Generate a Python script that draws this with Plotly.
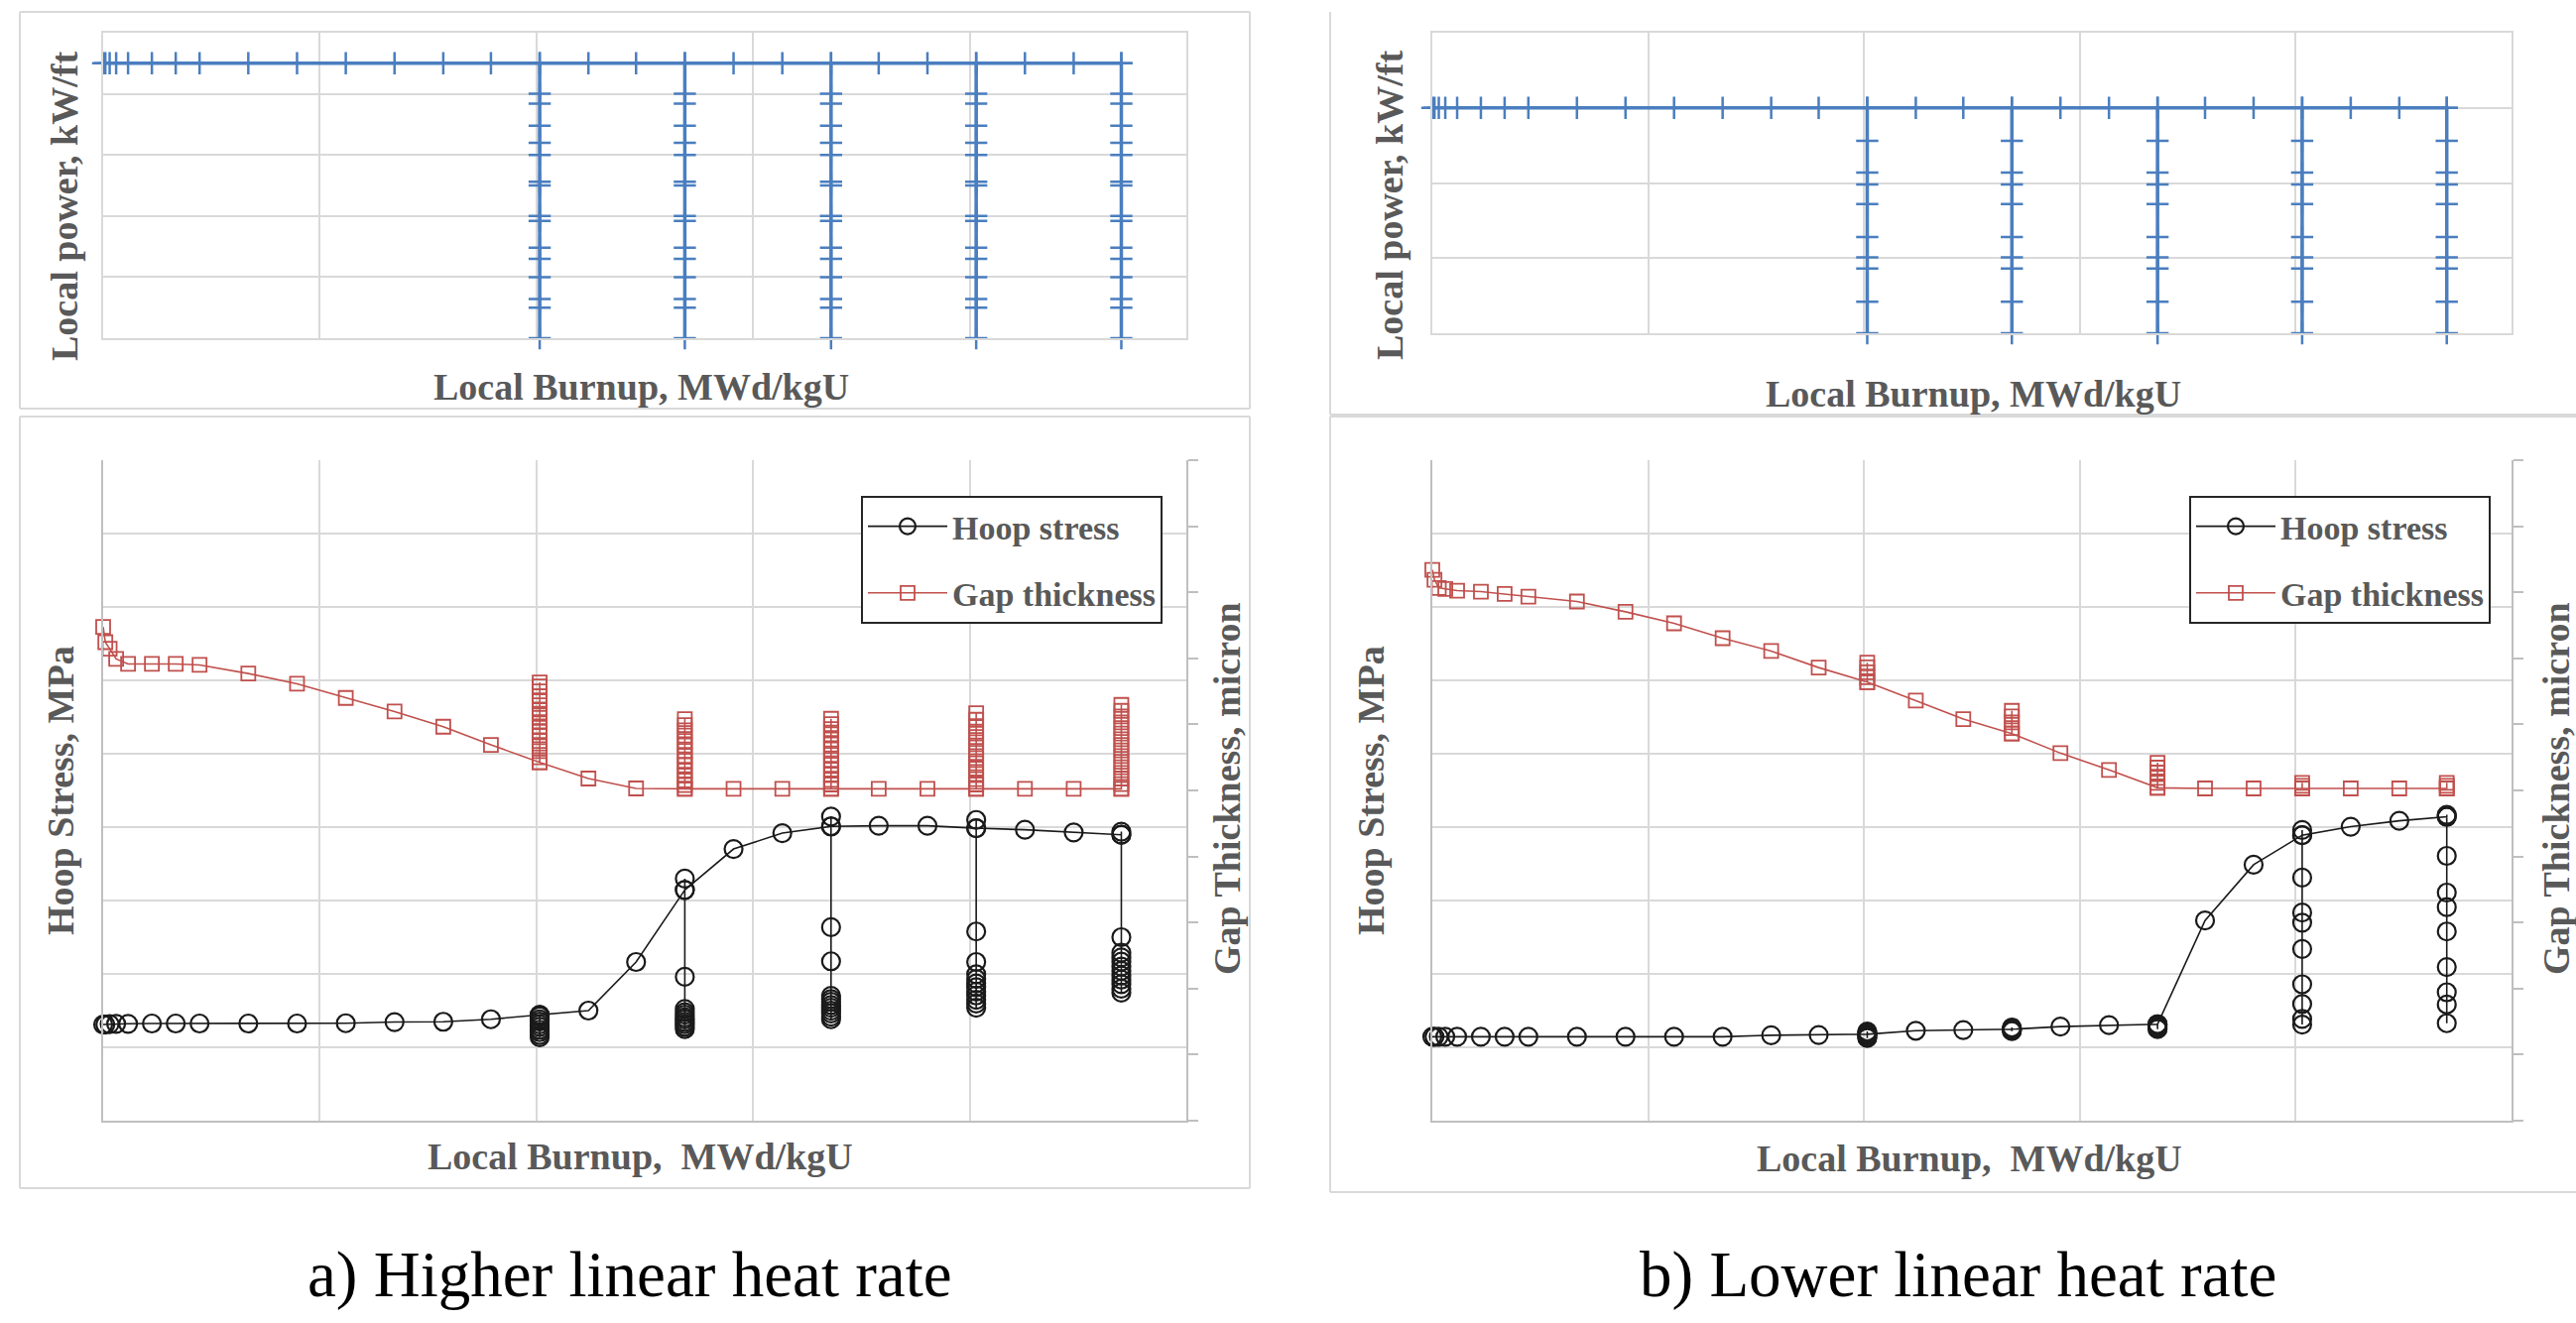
import plotly.graph_objects as go

W, H = 2597, 1334

# ---------------- data (arbitrary but consistent units) ----------------
burnup = [0.0, 0.1, 0.3, 0.6, 1.15, 2.25, 3.35, 4.45, 6.7, 8.95, 11.2, 13.45, 15.7, 17.9,
          20.15, 22.4, 24.6, 26.85, 29.1, 31.35, 33.6, 35.8, 38.05, 40.3, 42.55, 44.8, 47.0]
drop_burnups = [20.15, 26.85, 33.6, 40.3, 47.0]

# local power, kW/ft
power_a = [22.5, 22.5, 22.5, 22.5, 22.5, 22.5, 22.5, 22.5, 22.5, 22.5, 22.5, 22.5, 22.5, 22.5,
           22.5, 22.5, 22.5, 22.5, 22.5, 22.5, 22.5, 22.5, 22.5, 22.5, 22.5, 22.5, 22.5]
power_a_steps = [20.0, 19.2, 17.4, 16.0, 15.0, 12.8, 12.5, 10.0, 9.6, 7.4, 6.5, 5.0, 3.2, 2.5, 0.0]
power_b = [15.0, 15.0, 15.0, 15.0, 15.0, 15.0, 15.0, 15.0, 15.0, 15.0, 15.0, 15.0, 15.0, 15.0,
           15.0, 15.0, 15.0, 15.0, 15.0, 15.0, 15.0, 15.0, 15.0, 15.0, 15.0, 15.0, 15.0]
power_b_steps = [12.8, 10.7, 9.9, 8.6, 6.4, 5.05, 4.3, 2.1, 0.0]

# hoop stress, MPa
hoop_a = [-84.5, -84.5, -84.2, -84.0, -84.0, -83.8, -83.8, -83.8, -83.8, -83.8, -83.6, -82.8, -82.6,
          -80.9, -77.9, -75.0, -41.9, 7.2, 35.1, 45.9, 50.5, 50.9, 50.9, 49.3, 48.2, 46.4, 44.8]
hoop_a_drops = [
    [-79.0, -80.9, -82.5, -84.4, -86.1, -88.0, -89.7, -91.6, -93.2],
    [14.9, -52.0, -73.9, -76.1, -77.8, -79.6, -81.0, -82.7, -84.2, -86.0, -87.6],
    [57.2, -18.2, -41.4, -64.9, -67.1, -69.0, -71.2, -73.0, -75.1, -77.0, -79.1, -80.9],
    [54.9, -21.1, -41.9, -50.2, -53.4, -56.5, -59.1, -62.1, -64.7, -67.6, -70.2, -73.0],
    [46.9, -25.0, -35.6, -38.8, -41.7, -45.0, -47.9, -51.1, -53.9, -57.0, -60.1, -62.8],
]
hoop_b = [-92.8, -92.8, -92.8, -92.8, -92.8, -92.8, -92.8, -92.8, -92.8, -92.8, -92.8, -92.8, -91.8,
          -91.6, -91.1, -88.7, -88.2, -87.7, -85.9, -84.9, -84.3, -13.6, 24.4, 44.5, 50.3, 54.3, 57.1]
hoop_b_drops = [
    [-89.2, -90.2, -92.0, -93.0, -93.7],
    [-86.5, -87.2, -88.4, -89.0],
    [-85.0, -86.0, -87.0, -87.6],
    [48.0, 15.6, -8.2, -15.1, -33.0, -57.1, -70.5, -80.7, -84.5],
    [58.4, 30.4, 5.4, -4.5, -21.1, -45.3, -62.5, -70.8, -83.6],
]

# gap thickness, micron
gap_a = [49.5, 44.9, 42.9, 39.8, 38.3, 38.3, 38.3, 38.0, 35.4, 32.3, 28.0, 23.9, 19.3, 13.8,
         8.5, 3.6, 0.6, 0.5, 0.5, 0.5, 0.5, 0.5, 0.5, 0.5, 0.5, 0.5, 0.5]
gap_a_drops = [
    [10.0, 11.9, 13.4, 15.0, 16.7, 18.0, 19.4, 20.7, 22.0, 23.2, 24.5, 27.0, 28.5, 30.0, 31.5, 32.7],
    [1.6, 3.0, 4.5, 6.0, 7.6, 9.0, 10.5, 12.0, 13.6, 15.0, 16.6, 18.2, 19.8, 21.6],
    [1.8, 3.2, 4.8, 6.3, 7.8, 9.3, 10.8, 12.4, 13.9, 15.4, 17.0, 18.6, 20.1, 21.7],
    [1.8, 3.4, 5.0, 6.6, 8.2, 9.8, 11.4, 13.0, 14.6, 16.2, 17.8, 19.5, 21.4, 23.4],
    [1.9, 3.6, 5.3, 7.0, 8.7, 10.4, 12.1, 13.8, 15.5, 17.2, 18.9, 20.6, 22.4, 24.1, 25.9],
]
gap_b = [66.8, 63.8, 61.3, 61.0, 60.5, 60.2, 59.5, 58.7, 57.2, 54.1, 50.6, 46.1, 42.2, 37.2,
         32.8, 27.2, 21.6, 17.2, 11.3, 6.2, 0.8, 0.6, 0.6, 0.6, 0.6, 0.6, 0.6]
gap_b_drops = [
    [34.3, 35.8, 37.3, 38.7],
    [18.9, 20.6, 22.4, 24.1],
    [2.3, 3.8, 5.4, 6.9, 8.4],
    [1.4, 2.3],
    [1.4, 2.3],
]

captions = ["a) Higher linear heat rate", "b) Lower linear heat rate"]


# ---------------- helpers ----------------
def expand(xs, ys, drops, drop_vals):
    X, Y = [], []
    for x, y in zip(xs, ys):
        X.append(x)
        Y.append(y)
        if x in drops:
            for v in drop_vals[drops.index(x)]:
                X.append(x)
                Y.append(v)
            X.append(x)
            Y.append(y)
    return X, Y


def fx(px):
    return px / W


def fy(py):
    return 1 - py / H


BLUE = "#4a7ebf"
RED = "#c0504d"
GRID = "#d9d9d9"
AXL = "#bfbfbf"
TXT = "#595959"
SERIF = "Liberation Serif"

fig = go.Figure()

# power traces
for key, pw, steps in (("a", power_a, power_a_steps), ("b", power_b, power_b_steps)):
    X, Y = expand(burnup, pw, drop_burnups, [steps] * len(drop_burnups))
    fig.add_trace(go.Scatter(
        x=X, y=Y, mode="lines+markers", showlegend=False, cliponaxis=False,
        xaxis="x" if key == "a" else "x2", yaxis="y" if key == "a" else "y2",
        line=dict(color=BLUE, width=3.5),
        marker=dict(symbol="cross-thin", size=16, line=dict(color=BLUE, width=2.5)),
    ))

panels = [
    ("a", hoop_a, hoop_a_drops, gap_a, gap_a_drops, "x3", "y3", "y4", "legend"),
    ("b", hoop_b, hoop_b_drops, gap_b, gap_b_drops, "x4", "y5", "y6", "legend2"),
]
for key, hp, hpd, gp, gpd, xa, ya, ya2, lg in panels:
    X, Y = expand(burnup, hp, drop_burnups, hpd)
    fig.add_trace(go.Scatter(
        x=X, y=Y, mode="lines+markers", name="Hoop stress", legend=lg,
        legendgroup="h" + key, cliponaxis=False, xaxis=xa, yaxis=ya,
        line=dict(color="#1a1a1a", width=1.6),
        marker=dict(symbol="circle-open", size=18, color="#1a1a1a", line=dict(width=2.2)),
    ))
    X, Y = expand(burnup, gp, drop_burnups, gpd)
    fig.add_trace(go.Scatter(
        x=X, y=Y, mode="lines+markers", name="Gap thickness", legend=lg,
        legendgroup="g" + key, cliponaxis=False, xaxis=xa, yaxis=ya2,
        line=dict(color=RED, width=1.6),
        marker=dict(symbol="square-open", size=14, color=RED, line=dict(width=1.8)),
    ))

base = dict(showgrid=True, gridcolor=GRID, gridwidth=1.5, zeroline=False,
            showticklabels=False, ticks="", showline=True, linecolor=GRID, linewidth=1.5)

layout = dict(
    width=W, height=H, autosize=False,
    margin=dict(l=0, r=0, t=0, b=0),
    paper_bgcolor="white", plot_bgcolor="white",
    # top a
    xaxis=dict(base, domain=[fx(104), fx(1196)], range=[0, 50], dtick=10, tick0=0,
               anchor="y", mirror=True),
    yaxis=dict(base, domain=[fy(341), fy(33)], range=[0, 25], dtick=5, tick0=0,
               anchor="x", mirror=True),
    # top b
    xaxis2=dict(base, domain=[fx(1444), fx(2532)], range=[0, 50], dtick=10, tick0=0,
                anchor="y2", mirror=True),
    yaxis2=dict(base, domain=[fy(336), fy(33)], range=[0, 20], dtick=5, tick0=0,
                anchor="x2", mirror=True),
    # bottom a
    xaxis3=dict(base, domain=[fx(104), fx(1196)], range=[0, 50], dtick=10, tick0=0,
                anchor="y3", linecolor=AXL),
    yaxis3=dict(base, domain=[fy(1130), fy(464)], range=[-150, 300], dtick=50, tick0=0,
                anchor="x3", linecolor=AXL),
    yaxis4=dict(base, domain=[fy(1130), fy(464)], range=[-100, 100], dtick=20, tick0=0,
                overlaying="y3", side="right", anchor="x3", showgrid=False,
                ticks="outside", ticklen=10, tickwidth=1.5, tickcolor=AXL, linecolor=AXL),
    # bottom b
    xaxis4=dict(base, domain=[fx(1444), fx(2532)], range=[0, 50], dtick=10, tick0=0,
                anchor="y5", linecolor=AXL),
    yaxis5=dict(base, domain=[fy(1130), fy(464)], range=[-150, 300], dtick=50, tick0=0,
                anchor="x4", linecolor=AXL),
    yaxis6=dict(base, domain=[fy(1130), fy(464)], range=[-100, 100], dtick=20, tick0=0,
                overlaying="y5", side="right", anchor="x4", showgrid=False,
                ticks="outside", ticklen=10, tickwidth=1.5, tickcolor=AXL, linecolor=AXL),
)

legend_common = dict(
    xanchor="left", yanchor="top", bordercolor="#262626", borderwidth=2, bgcolor="white",
    font=dict(family=SERIF, size=34, color=TXT, weight="bold"),
    itemwidth=80, tracegroupgap=20, traceorder="grouped",
)
layout["legend"] = dict(legend_common, x=fx(868), y=fy(500))
layout["legend2"] = dict(legend_common, x=fx(2207), y=fy(500))

fig.update_layout(**layout)

# titles as annotations
def title(text, cx, cy, angle=0, size=38):
    fig.add_annotation(
        text="<b>" + text + "</b>", xref="paper", yref="paper", x=fx(cx), y=fy(cy),
        xanchor="center", yanchor="middle", showarrow=False, textangle=angle,
        font=dict(family=SERIF, size=size, color=TXT),
    )

title("Local power, kW/ft", 65, 208, -90)
title("Local power, kW/ft", 1401, 207, -90)
title("Local Burnup, MWd/kgU", 646, 390)
title("Local Burnup, MWd/kgU", 1989, 397)
title("Hoop Stress, MPa", 61, 797, -90)
title("Hoop Stress, MPa", 1382, 797, -90)
title("Gap Thickness, micron", 1237, 795, -90)
title("Gap Thickness, micron", 2577, 795, -90)
title("Local Burnup,  MWd/kgU", 645, 1166)
title("Local Burnup,  MWd/kgU", 1985, 1168)

for text, cx in zip(captions, (635, 1974)):
    fig.add_annotation(
        text=text, xref="paper", yref="paper", x=fx(cx), y=fy(1285),
        xanchor="center", yanchor="middle", showarrow=False,
        font=dict(family=SERIF, size=65, color="black"),
    )

# chart-area frames
def seg(x0, y0, x1, y1):
    fig.add_shape(type="line", xref="paper", yref="paper",
                  x0=fx(x0), y0=fy(y0), x1=fx(x1), y1=fy(y1),
                  line=dict(color=GRID, width=2))

for (x0, y0, x1, y1) in ((20, 12, 1260, 412), (20, 420, 1260, 1198)):
    seg(x0, y0, x1, y0); seg(x0, y1, x1, y1); seg(x0, y0, x0, y1); seg(x1, y0, x1, y1)
seg(1341, 12, 1341, 418); seg(1341, 418, 2597, 418)
seg(1341, 420, 2597, 420); seg(1341, 420, 1341, 1202); seg(1341, 1202, 2597, 1202)

fig.write_html("out.html", config={"displayModeBar": False},
               post_script="document.body.style.margin='0';")
